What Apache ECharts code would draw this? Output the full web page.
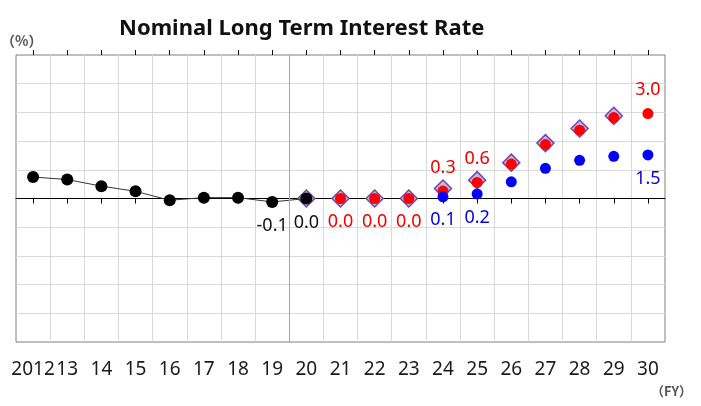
<!DOCTYPE html>
<html>
<head>
<meta charset="utf-8">
<script src="https://cdn.jsdelivr.net/npm/echarts@6/dist/echarts.min.js"></script>
<style>
html, body { margin: 0; padding: 0; background: #fff; }
#chart { width: 701px; height: 406px; }
</style>
</head>
<body>
<div id="chart"></div>
<script>
// fiscal years (2012 written in full, the rest as two digits)
const years = ['2012', '13', '14', '15', '16', '17', '18', '19', '20', '21', '22', '23', '24', '25', '26', '27', '28', '29', '30'];

// actual rate, black line
const actual = [0.75, 0.66, 0.43, 0.25, -0.06, 0.03, 0.03, -0.12, 0.0, null, null, null, null, null, null, null, null, null, null];
// earlier projection, diamonds
const prevProjection = [null, null, null, null, null, null, null, null, 0.0, 0.0, 0.0, 0.0, 0.35, 0.64, 1.25, 1.93, 2.44, 2.88, null];
// high case, red dots
const highCase = [null, null, null, null, null, null, null, null, null, 0.0, 0.0, 0.0, 0.26, 0.56, 1.2, 1.88, 2.38, 2.82, 2.96];
// baseline case, blue dots
const baseCase = [null, null, null, null, null, null, null, null, null, null, null, null, 0.06, 0.16, 0.58, 1.05, 1.33, 1.47, 1.52];

// which years carry a value label
const actualBelow = ['19', '20'];
const highBelow = ['21', '22', '23'];
const highAbove = ['24', '25', '30'];
const baseBelow = ['24', '25', '30'];
const dividerAfter = '19';

const labelFont = { fontSize: 18, fontFamily: 'Noto Sans', distance: 9 };

function withLabels(values, below, above, color) {
	return values.map((v, i) => {
		const pos = below.includes(years[i]) ? 'bottom' : (above.includes(years[i]) ? 'top' : null);
		if (pos === null || v === null) return v;
		return {
			value: v,
			label: Object.assign({ show: true, position: pos, color: color, formatter: (p) => p.value.toFixed(1) }, labelFont),
		};
	});
}

const myChart = echarts.init(document.getElementById('chart'));
const dividerIdx = years.indexOf(dividerAfter) + 0.5;

const option = {
	animation: false,
	title: {
		text: 'Nominal Long Term Interest Rate',
		left: 114,
		top: 13,
		textStyle: { fontSize: 22, fontWeight: 'bold', fontFamily: 'Noto Sans', color: '#111' },
	},
	graphic: [
		{ type: 'text', left: 1, top: 34, style: { text: '（%）', fontSize: 14, fontWeight: 'bold', fontFamily: 'Noto Sans CJK JP', fill: '#555' } },
		{ type: 'text', left: 651, top: 385, style: { text: '（FY）', fontSize: 13, fontWeight: 'bold', fontFamily: 'Noto Sans CJK JP', fill: '#555' } },
	],
	grid: {
		left: 16,
		right: 36,
		top: 55,
		bottom: 64,
		show: true,
		borderColor: '#7f7f7f',
		borderWidth: 1,
	},
	xAxis: [
		{
			type: 'category',
			data: years,
			position: 'bottom',
			axisLine: { show: false, onZero: false },
			axisTick: { show: false },
			axisLabel: { interval: 0, margin: 18, fontSize: 19, fontFamily: 'Noto Sans', color: '#1a1a1a' },
			splitLine: { show: true, interval: 0, showMinLine: false, showMaxLine: false, lineStyle: { color: '#d9d9d9' } },
		},
		{
			type: 'category',
			data: years,
			axisLine: { show: true, onZero: true, lineStyle: { color: '#000', width: 1 } },
			axisTick: { show: true, inside: true, length: 5, alignWithLabel: true, interval: 0, lineStyle: { color: '#000' } },
			axisLabel: { show: false },
			splitLine: { show: false },
		},
		{
			type: 'category',
			data: years,
			axisLine: { show: false, onZero: true },
			axisTick: { show: true, inside: false, length: 5, alignWithLabel: true, interval: 0, lineStyle: { color: '#000' } },
			axisLabel: { show: false },
			splitLine: { show: false },
		},
		{
			type: 'value',
			min: -0.5,
			max: years.length - 0.5,
			show: false,
		},
	],
	yAxis: {
		type: 'value',
		min: -5,
		max: 5,
		interval: 1,
		axisLine: { show: false },
		axisTick: { show: false },
		axisLabel: { show: false },
		splitLine: { show: true, showMinLine: false, showMaxLine: false, lineStyle: { color: '#d9d9d9' } },
	},
	series: [
		{
			name: 'divider',
			type: 'line',
			xAxisIndex: 3,
			data: [],
			markLine: {
				silent: true,
				symbol: 'none',
				label: { show: false },
				lineStyle: { color: '#a6a6a6', type: 'solid', width: 1 },
				data: [{ xAxis: dividerIdx }],
			},
		},
		{
			name: 'Previous projection',
			type: 'scatter',
			data: prevProjection,
			symbol: 'diamond',
			symbolSize: 17,
			itemStyle: { color: '#c9b3ea', borderColor: '#7048a8', borderWidth: 1.5, opacity: 1 },
		},
		{
			name: 'High case',
			type: 'scatter',
			data: withLabels(highCase, highBelow, highAbove, '#ee0000'),
			symbol: 'circle',
			symbolSize: 11,
			itemStyle: { color: '#ff0000', opacity: 1 },
		},
		{
			name: 'Baseline case',
			type: 'scatter',
			data: withLabels(baseCase, baseBelow, [], '#0000dd'),
			symbol: 'circle',
			symbolSize: 11,
			itemStyle: { color: '#0000ff', opacity: 1 },
		},
		{
			name: 'Actual',
			type: 'line',
			data: withLabels(actual, actualBelow, [], '#111'),
			symbol: 'circle',
			symbolSize: 12,
			showAllSymbol: true,
			lineStyle: { color: '#333', width: 1 },
			itemStyle: { color: '#000' },
		},
	],
};
myChart.setOption(option);
window.onresize = function () {
	myChart.resize();
};
</script>
</body>
</html>
